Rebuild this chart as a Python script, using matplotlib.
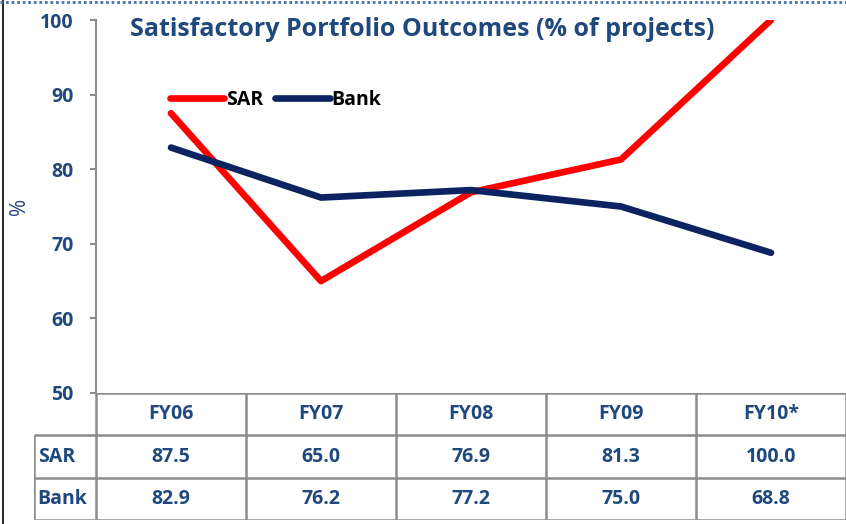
import matplotlib.pyplot as plt
from matplotlib.lines import Line2D

years = ["FY06", "FY07", "FY08", "FY09", "FY10*"]
sar = [87.5, 65.0, 76.9, 81.3, 100.0]
bank = [82.9, 76.2, 77.2, 75.0, 68.8]
row_names = ["SAR", "Bank"]

W, H = 846, 524
BLUE = "#1F497D"
GRID = "#8C8C8C"
plt.rcParams["font.family"] = ["Open Sans", "DejaVu Sans"]

fig = plt.figure(figsize=(W / 100, H / 100), dpi=100)

# main line chart
ax = fig.add_axes([96 / W, (H - 393) / H, 750 / W, 373 / H])
x = list(range(len(years)))
ax.plot(x, sar, color="#FF0000", lw=4.8, solid_capstyle="round", label="SAR")
ax.plot(x, bank, color="#0B2461", lw=4.8, solid_capstyle="round", label="Bank")
ax.set_xlim(-0.5, len(years) - 0.5)
ax.set_ylim(50, 100)
ax.set_yticks([50, 60, 70, 80, 90, 100])
ax.set_xticks([])
for s in ["top", "right", "bottom"]:
    ax.spines[s].set_visible(False)
ax.spines["left"].set_color(GRID)
ax.spines["left"].set_linewidth(1.5)
ax.tick_params(axis="y", direction="out", length=4, width=1.5, color=GRID,
               labelsize=14, labelcolor=BLUE, pad=12)
for t in ax.get_yticklabels():
    t.set_fontweight("bold")
ax.set_ylabel("%", color=BLUE, fontsize=15)
ax.yaxis.set_label_coords(-66 / 750, 0.5)

leg = ax.legend(loc="upper left", bbox_to_anchor=(0.075, 0.86), ncol=2, frameon=False,
                handlelength=2.8, handletextpad=0.1, columnspacing=0.6,
                prop={"weight": "bold", "size": 14})
for h in leg.legend_handles:
    h.set_solid_capstyle("round")

fig.text(422 / W, 1 - 29 / H, "Satisfactory Portfolio Outcomes (% of projects)",
         ha="center", va="center", color=BLUE, fontsize=18, fontweight="bold")

# data table below
tab = fig.add_axes([34 / W, 4 / H, 812 / W, (H - 393 - 4) / H])
left = -0.5 - 62 / 150
tab.set_xlim(left, len(years) - 0.5)
tab.set_ylim(3, 0)
tab.axis("off")
lk = dict(color=GRID, lw=1.8, solid_capstyle="butt")
# horizontal lines
tab.plot([-0.5, len(years) - 0.5], [0, 0], **lk)
for yv in [1, 2, 3]:
    tab.plot([left, len(years) - 0.5], [yv, yv], **lk)
# vertical lines
tab.plot([left, left], [1, 3], **lk)
for i in range(len(years) + 1):
    tab.plot([i - 0.5, i - 0.5], [0, 3], **lk)
cell = dict(ha="center", va="center", color=BLUE, fontsize=14, fontweight="bold")
for i, yr in enumerate(years):
    tab.text(i, 0.5, yr, **cell)
    tab.text(i, 1.5, f"{sar[i]:.1f}", **cell)
    tab.text(i, 2.5, f"{bank[i]:.1f}", **cell)
for r, name in enumerate(row_names):
    tab.text(left + 0.025, r + 1.5, name, ha="left", va="center", color=BLUE,
             fontsize=14, fontweight="bold")

# outer frame of the slide
fig.add_artist(Line2D([2.5 / W, 2.5 / W], [0, 1], color="black", lw=1.2))
fig.add_artist(Line2D([0, 1], [1 - 1.5 / H, 1 - 1.5 / H], color="#4F6FA8", lw=2, ls=(0, (1, 1))))

fig.savefig("out.png", dpi=100)
